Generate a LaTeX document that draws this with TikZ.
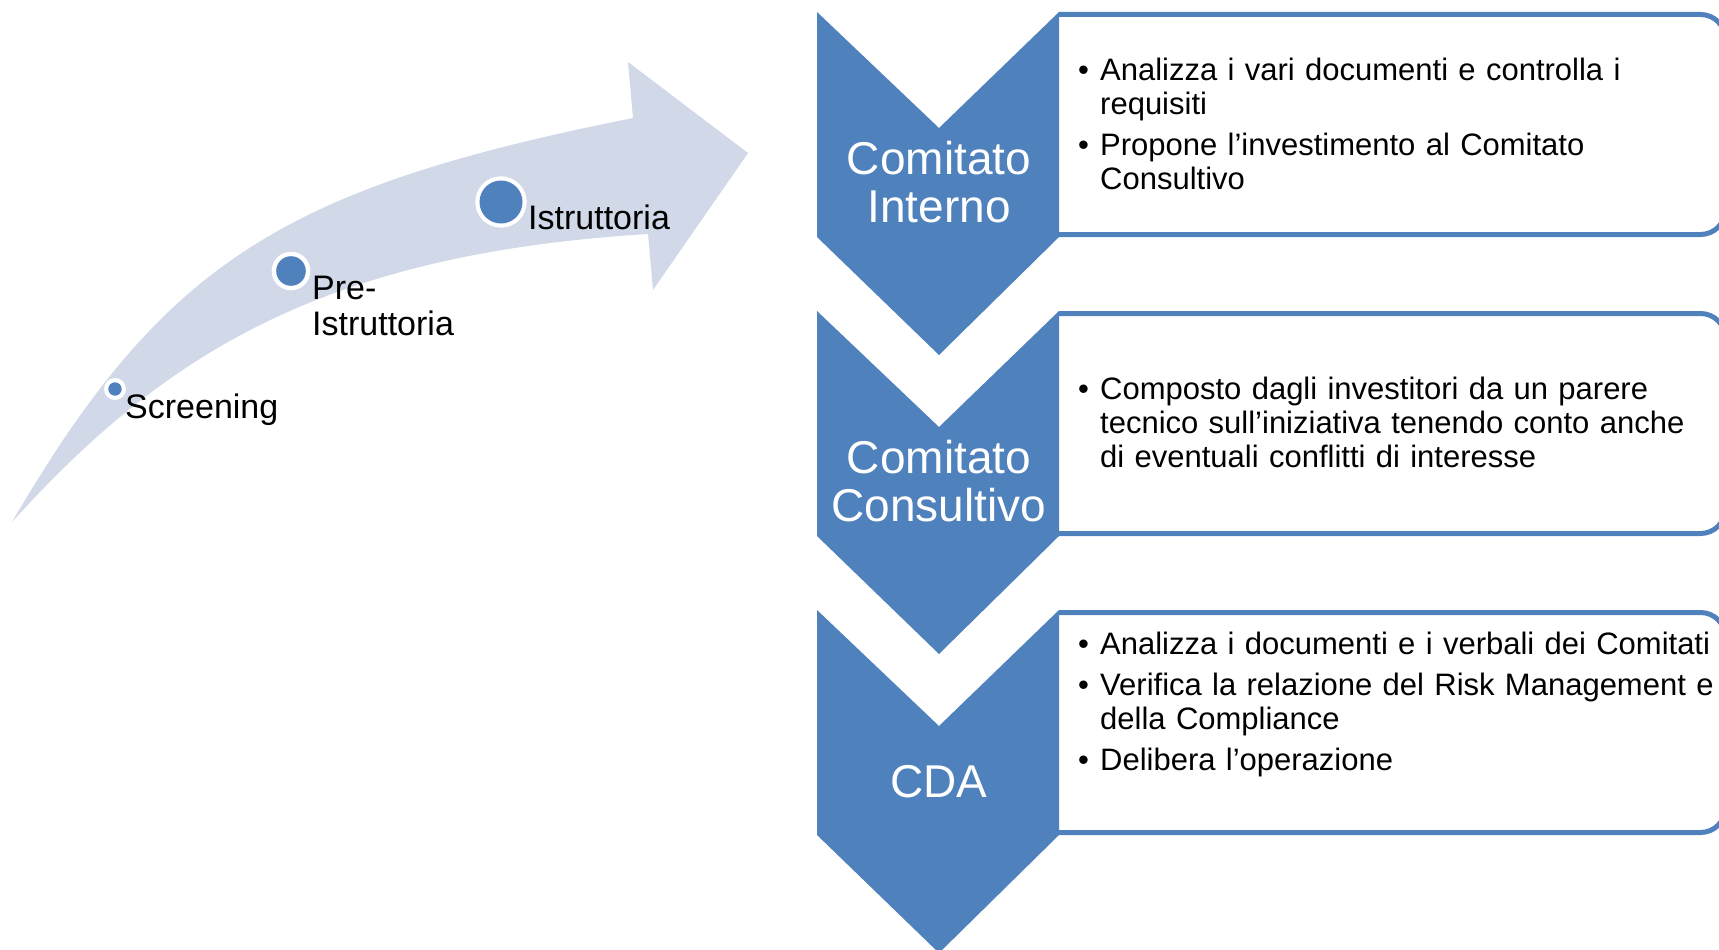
\documentclass[tikz,border=0pt]{standalone}
\usepackage{fontspec}
\setmainfont{Liberation Sans}
\definecolor{cblue}{RGB}{79,129,189}
\definecolor{arrowfill}{RGB}{209,216,232}
\newcommand\bitem[1]{\par\hangindent=22pt\hangafter=1\noindent\makebox[22pt][l]{\textbullet}#1\par}
\tikzset{
  chev/.style={fill=cblue, draw=none},
  infobox/.style={draw=cblue, line width=5pt, fill=white, rounded corners=25pt},
  chevlabel/.style={text=white, font=\fontsize{46}{48}\selectfont, align=center, inner sep=0pt},
  stage/.style={font=\fontsize{34}{36}\selectfont, align=left, inner sep=0pt},
  bullets/.style={font=\fontsize{31}{34}\selectfont, text width=800pt, inner sep=0pt, anchor=north west, align=left},
  ring/.style={fill=white},
  dot/.style={fill=cblue},
}
\begin{document}
\begin{tikzpicture}[x=1pt,y=-1pt]
\useasboundingbox (0,0) rectangle (1719,950);
% curved arrow
\fill[arrowfill] (12,522) .. controls (164,262) and (283,188) .. (633,118) -- (628,62) -- (748,153) -- (653,290) -- (648,234) .. controls (323,254) and (164,354) .. (12,522) -- cycle;
% dots
\fill[ring] (115,389) circle[radius=11pt];
\fill[dot] (115,389) circle[radius=6.7pt];
\fill[ring] (291,271) circle[radius=19.3pt];
\fill[dot] (291,271) circle[radius=14.8pt];
\fill[ring] (501,202) circle[radius=25.7pt];
\fill[dot] (501,202) circle[radius=21.5pt];
% stage labels
\node[stage, anchor=base west] (screening) at (125,418) {Screening};
\node[stage, anchor=north west] (pre) at (312,273.8) {\strut Pre-\\Istruttoria};
\node[stage, anchor=base west] (istr) at (528,229) {Istruttoria};
% boxes
\foreach \T in {12,311,610}{
  \draw[infobox] (1059,\T+2.5) -- (1725.5,\T+2.5) -- (1725.5,\T+222.5) -- (1059,\T+222.5);
}
% chevrons
\foreach \T in {12,311,610}{
  \fill[chev] (817,\T) -- (939,\T+116) -- (1059,\T) -- (1059,\T+225) -- (939,\T+343) -- (817,\T+225) -- cycle;
}
% chevron labels
\node[chevlabel, anchor=north] (ci) at (939,140.4) {\strut Comitato\\Interno};
\node[chevlabel, anchor=north] (cc) at (939,439.4) {\strut Comitato\\Consultivo};
\node[chevlabel, anchor=base] (cda) at (939,797) {CDA};
% bullet texts
\node[bullets] (t1) at (1078,39.7) {\setlength\parskip{7pt}%
\bitem{\strut Analizza i vari documenti e controlla i\newline requisiti}
\bitem{Propone l’investimento al Comitato\newline Consultivo}};
\node[bullets] (t2) at (1078,358.7) {\setlength\parskip{7pt}%
\bitem{\strut Composto dagli investitori da un parere\newline tecnico sull’iniziativa tenendo conto anche\newline di eventuali conflitti di interesse}};
\node[bullets] (t3) at (1078,613.7) {\setlength\parskip{7pt}%
\bitem{\strut Analizza i documenti e i verbali dei Comitati}
\bitem{Verifica la relazione del Risk Management e\newline della Compliance}
\bitem{Delibera l’operazione}};
\end{tikzpicture}
\end{document}
